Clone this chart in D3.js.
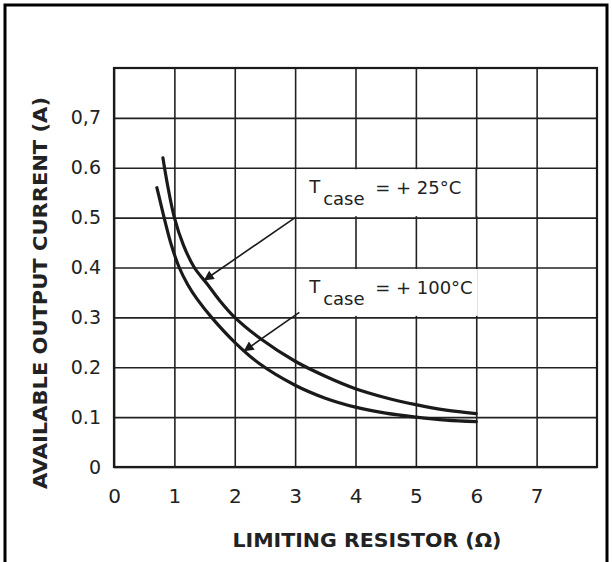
<!DOCTYPE html>
<html>
<head>
<meta charset="utf-8">
<script src="https://cdn.jsdelivr.net/npm/d3@7"></script>
<style>
  body { margin: 0; background: #fff; }
  svg { display: block; font-family: "DejaVu Sans", sans-serif; }
  .grid line { stroke: #222; stroke-width: 1.6; }
  .grid path { display: none; }
  .tick text { fill: #222; }
  .curve { fill: none; stroke: #1a1a1a; stroke-width: 3.2; stroke-linecap: round; }
</style>
</head>
<body>
<div id="vis"></div>
<script>
// Available output current vs limiting resistor

const FRAME_WIDTH = 612;
const FRAME_HEIGHT = 562;
const MARGINS = {left: 114, right: 15, top: 68, bottom: 95};

// axis ticks
const xTicks = [0, 1, 2, 3, 4, 5, 6, 7];
const xTickLabels = ["0", "1", "2", "3", "4", "5", "6", "7"];
const yTicks = [0, 0.1, 0.2, 0.3, 0.4, 0.5, 0.6, 0.7];
const yTickLabels = ["0", "0.1", "0.2", "0.3", "0.4", "0.5", "0.6", "0,7"];

// T case = +25 C (upper curve)
const r25 = [0.81, 0.88, 1.0, 1.15, 1.33, 1.55, 1.75, 2.0, 2.44, 3.0, 3.5, 4.0, 4.5, 5.0, 5.5, 6.0];
const i25 = [0.62, 0.57, 0.50, 0.445, 0.40, 0.366, 0.334, 0.30, 0.256, 0.212, 0.182, 0.157, 0.139, 0.125, 0.114, 0.107];

// T case = +100 C (lower curve)
const r100 = [0.71, 0.77, 0.84, 0.95, 1.08, 1.22, 1.38, 1.63, 2.0, 2.4, 3.0, 3.5, 4.0, 4.5, 5.0, 5.5, 6.0];
const i100 = [0.56, 0.53, 0.495, 0.445, 0.40, 0.366, 0.336, 0.298, 0.25, 0.208, 0.164, 0.138, 0.12, 0.108, 0.10, 0.094, 0.091];

// annotation: label cell corner -> arrow tip (data units)
const labels = ["+ 25°C", "+ 100°C"];
const labelX = [3, 3];
const labelY = [0.6, 0.4];
const arrowFrom = [[3, 0.5], [3.07, 0.31]];
const arrowTo = [[1.5, 0.375], [2.16, 0.233]];

const VIS_WIDTH = 483;
const VIS_HEIGHT = 399;

const svg = d3.select("#vis")
              .append("svg")
                .attr("width", FRAME_WIDTH)
                .attr("height", FRAME_HEIGHT);

// outer frame of the scan
svg.append("rect")
   .attr("x", 5).attr("y", 5)
   .attr("width", 602).attr("height", 620)
   .attr("fill", "none")
   .attr("stroke", "#000")
   .attr("stroke-width", 3);

const X_SCALE = d3.scaleLinear()
                  .domain([0, 8])
                  .range([MARGINS.left, MARGINS.left + VIS_WIDTH]);
const Y_SCALE = d3.scaleLinear()
                  .domain([0, 0.8])
                  .range([MARGINS.top + VIS_HEIGHT, MARGINS.top]);

// grid + tick labels through the axes
svg.append("g")
   .attr("class", "grid")
   .attr("transform", "translate(" + MARGINS.left + ",0)")
   .call(d3.axisLeft(Y_SCALE)
           .tickValues(yTicks)
           .tickFormat((d, i) => yTickLabels[i])
           .tickSize(-VIS_WIDTH)
           .tickPadding(13))
   .call(g => g.selectAll("text")
               .attr("font-size", "19px")
               .attr("font-family", "DejaVu Sans"));

svg.append("g")
   .attr("class", "grid")
   .attr("transform", "translate(0," + (MARGINS.top + VIS_HEIGHT) + ")")
   .call(d3.axisBottom(X_SCALE)
           .tickValues(xTicks)
           .tickFormat((d, i) => xTickLabels[i])
           .tickSize(-VIS_HEIGHT)
           .tickPadding(22))
   .call(g => g.selectAll("text")
               .attr("font-size", "20px")
               .attr("font-family", "DejaVu Sans"));

// plot border
svg.append("rect")
   .attr("x", X_SCALE(0)).attr("y", Y_SCALE(0.8))
   .attr("width", X_SCALE(8) - X_SCALE(0))
   .attr("height", Y_SCALE(0) - Y_SCALE(0.8))
   .attr("fill", "none")
   .attr("stroke", "#1a1a1a")
   .attr("stroke-width", 2.2);

// white boxes behind the labels
labels.forEach((t, k) => {
  svg.append("rect")
     .attr("x", X_SCALE(labelX[k]) + 1.5)
     .attr("y", Y_SCALE(labelY[k]) + 1.5)
     .attr("width", X_SCALE(labelX[k] + 3.05) - X_SCALE(labelX[k]) - 3)
     .attr("height", Y_SCALE(0) - Y_SCALE(0.1) - 3)
     .attr("fill", "#fff");
});
// x = 6 gridline stays visible through the first box
svg.append("line")
   .attr("x1", X_SCALE(6)).attr("x2", X_SCALE(6))
   .attr("y1", Y_SCALE(0.6)).attr("y2", Y_SCALE(0.5))
   .attr("stroke", "#222").attr("stroke-width", 1.6);

// curves
const line = d3.line()
               .x(d => X_SCALE(d[0]))
               .y(d => Y_SCALE(d[1]))
               .curve(d3.curveCatmullRom.alpha(0.5));

svg.append("path")
   .datum(r25.map((r, i) => [r, i25[i]]))
   .attr("class", "curve")
   .attr("d", line);

svg.append("path")
   .datum(r100.map((r, i) => [r, i100[i]]))
   .attr("class", "curve")
   .attr("d", line);

// arrows
svg.append("defs").append("marker")
   .attr("id", "head")
   .attr("viewBox", "0 0 10 10")
   .attr("refX", 9).attr("refY", 5)
   .attr("markerWidth", 14).attr("markerHeight", 10)
   .attr("markerUnits", "userSpaceOnUse")
   .attr("orient", "auto")
   .append("path")
     .attr("d", "M0,0 L10,5 L0,10 Z")
     .attr("fill", "#1a1a1a");

arrowFrom.forEach((a, k) => {
  svg.append("line")
     .attr("x1", X_SCALE(a[0])).attr("y1", Y_SCALE(a[1]))
     .attr("x2", X_SCALE(arrowTo[k][0])).attr("y2", Y_SCALE(arrowTo[k][1]))
     .attr("stroke", "#1a1a1a")
     .attr("stroke-width", 1.6)
     .attr("marker-end", "url(#head)");
});

// label texts
labels.forEach((t, k) => {
  const x0 = X_SCALE(labelX[k]);
  const y0 = Y_SCALE(labelY[k]);
  svg.append("text")
     .attr("x", x0 + 14).attr("y", y0 + 25)
     .attr("font-size", "18px").attr("fill", "#222")
     .text("T");
  svg.append("text")
     .attr("x", x0 + 28).attr("y", y0 + 37)
     .attr("font-size", "18px").attr("fill", "#222")
     .text("case");
  svg.append("text")
     .attr("x", x0 + 80).attr("y", y0 + 26)
     .attr("font-size", "18px").attr("fill", "#222")
     .text("= " + t);
});

// axis titles
svg.append("text")
   .attr("x", 367).attr("y", 547)
   .attr("text-anchor", "middle")
   .attr("font-size", "20px").attr("font-weight", "bold")
   .attr("fill", "#222")
   .attr("textLength", 269).attr("lengthAdjust", "spacingAndGlyphs")
   .text("LIMITING RESISTOR (Ω)");

svg.append("text")
   .attr("transform", "translate(47,293) rotate(-90)")
   .attr("text-anchor", "middle")
   .attr("font-size", "20px").attr("font-weight", "bold")
   .attr("fill", "#222")
   .attr("textLength", 392).attr("lengthAdjust", "spacingAndGlyphs")
   .text("AVAILABLE OUTPUT CURRENT (A)");
</script>
</body>
</html>
